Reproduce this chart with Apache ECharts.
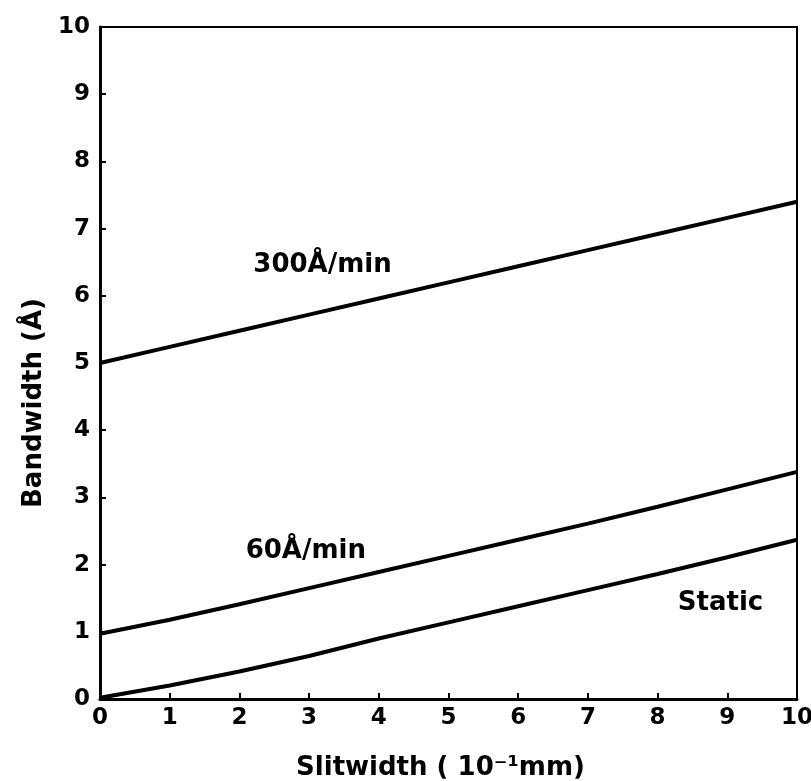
<!DOCTYPE html>
<html>
<head>
<meta charset="utf-8">
<script src="https://cdn.jsdelivr.net/npm/echarts@6/dist/echarts.min.js"></script>
<style>
  html, body { margin: 0; padding: 0; background: #fff; }
  #chart { width: 811px; height: 781px; }
</style>
</head>
<body>
<div id="chart"></div>
<script>
// slitwidth in 10^-1 mm
const slitwidth = [0, 1, 2, 3, 4, 5, 6, 7, 8, 9, 10];
// bandwidth in Å
const scan300 = [5.0, 5.24, 5.48, 5.72, 5.96, 6.2, 6.44, 6.68, 6.92, 7.16, 7.4];
const scan60 = [0.97, 1.18, 1.41, 1.65, 1.89, 2.13, 2.37, 2.61, 2.86, 3.12, 3.38];
const staticBw = [0.02, 0.2, 0.41, 0.64, 0.9, 1.14, 1.38, 1.62, 1.86, 2.11, 2.37];
// curve labels: [x, y, text]
const curveLabels = [
  [2.2, 6.46, '300Å/min'],
  [2.09, 2.2, '60Å/min'],
  [8.29, 1.43, 'Static']
];

const font = 'DejaVu Sans';

function pairs(ys) {
  return slitwidth.map((x, i) => [x, ys[i]]);
}

function lineSeries(name, ys) {
  return {
    name: name,
    type: 'line',
    data: pairs(ys),
    symbol: 'none',
    smooth: false,
    lineStyle: { color: '#000', width: 4 },
    z: 3
  };
}

const chart = echarts.init(document.getElementById('chart'));

chart.setOption({
  backgroundColor: '#fff',
  animation: false,
  grid: {
    left: 100,
    right: 14,
    top: 27,
    bottom: 82,
    outerBoundsMode: 'none',
    containLabel: false,
    show: true,
    borderColor: '#000',
    borderWidth: 2
  },
  xAxis: {
    type: 'value',
    min: 0,
    max: 10,
    interval: 1,
    name: 'Slitwidth ( 10⁻¹mm)',
    nameLocation: 'middle',
    nameGap: 56,
    nameTextStyle: { fontFamily: font, fontWeight: 'bold', fontSize: 26, color: '#000', padding: [0, 16, 0, 0] },
    axisLine: { lineStyle: { color: '#000', width: 3 } },
    axisTick: { inside: true, length: 6, lineStyle: { color: '#000', width: 2 } },
    axisLabel: { fontFamily: font, fontWeight: 'bold', fontSize: 23, color: '#000', margin: 8 },
    splitLine: { show: false }
  },
  yAxis: {
    type: 'value',
    min: 0,
    max: 10,
    interval: 1,
    name: 'Bandwidth (Å)',
    nameLocation: 'middle',
    nameGap: 50,
    nameTextStyle: { fontFamily: font, fontWeight: 'bold', fontSize: 26, color: '#000', padding: [0, 80, 0, 0] },
    axisLine: { lineStyle: { color: '#000', width: 3 } },
    axisTick: { inside: true, length: 6, lineStyle: { color: '#000', width: 2 } },
    axisLabel: { fontFamily: font, fontWeight: 'bold', fontSize: 23, color: '#000', margin: 10 },
    splitLine: { show: false }
  },
  series: [
    lineSeries('300Å/min', scan300),
    lineSeries('60Å/min', scan60),
    lineSeries('Static', staticBw),
    {
      type: 'scatter',
      symbolSize: 0,
      data: curveLabels.map(d => ({ value: [d[0], d[1]], name: d[2] })),
      label: {
        show: true,
        position: 'right',
        distance: 0,
        formatter: p => p.name,
        fontFamily: font,
        fontWeight: 'bold',
        fontSize: 26,
        color: '#000',
        opacity: 1
      },
      silent: true
    }
  ]
});
</script>
</body>
</html>
